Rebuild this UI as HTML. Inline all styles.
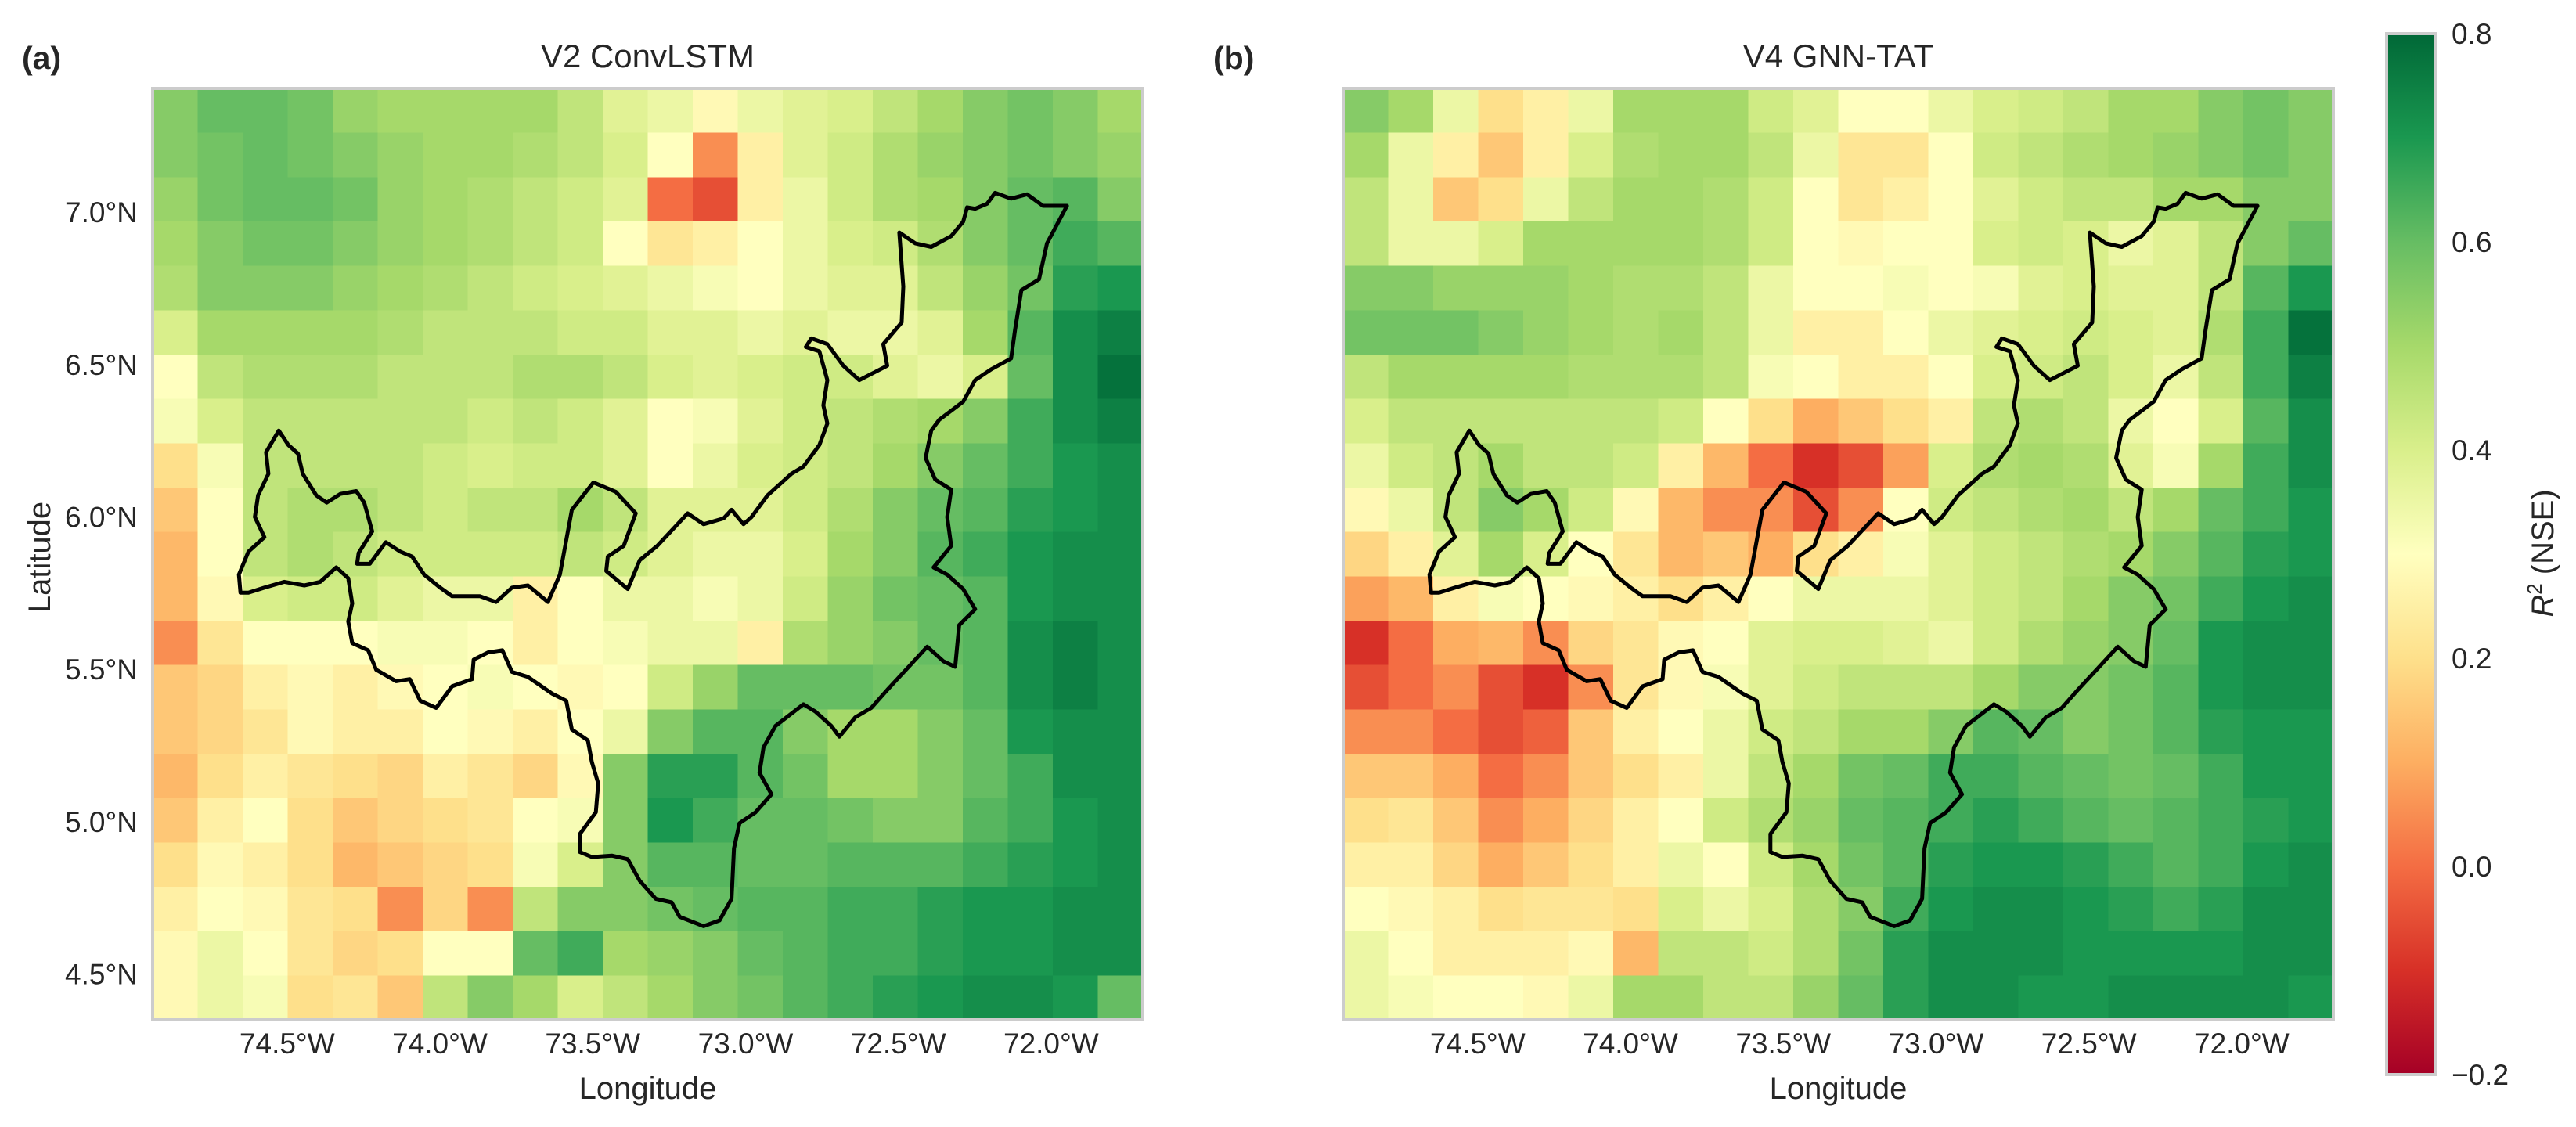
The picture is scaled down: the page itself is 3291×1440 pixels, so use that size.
<!DOCTYPE html>
<html><head><meta charset="utf-8"><style>
html,body{margin:0;padding:0;background:#fff}
svg{display:block;font-family:"Liberation Sans",Arial,sans-serif}
</style></head><body>
<svg id="fig" width="3291" height="1440" viewBox="0 0 3291 1440" xmlns="http://www.w3.org/2000/svg">
<defs>
<linearGradient id="cbg" x1="0" y1="1" x2="0" y2="0">
<stop offset="0" stop-color="#a50026"/><stop offset="0.1" stop-color="#d73027"/><stop offset="0.2" stop-color="#f46d43"/><stop offset="0.3" stop-color="#fdae61"/><stop offset="0.4" stop-color="#fee08b"/><stop offset="0.5" stop-color="#ffffbf"/><stop offset="0.6" stop-color="#d9ef8b"/><stop offset="0.7" stop-color="#a6d96a"/><stop offset="0.8" stop-color="#66bd63"/><stop offset="0.9" stop-color="#1a9850"/><stop offset="1" stop-color="#006837"/>
</linearGradient>
</defs>
<g id="layer"></g>
</svg>
<script>
const lonTicks=[-74.5,-74.0,-73.5,-73.0,-72.5,-72.0];
const lonLabels=["74.5°W","74.0°W","73.5°W","73.0°W","72.5°W","72.0°W"];
const latTicks=[4.5,5.0,5.5,6.0,6.5,7.0];
const latLabels=["4.5°N","5.0°N","5.5°N","6.0°N","6.5°N","7.0°N"];
const cbTicks=[-0.2,0.0,0.2,0.4,0.6,0.8];
const cbLabels=["\u22120.2","0.0","0.2","0.4","0.6","0.8"];
const lonMin=-74.94, lonMax=-71.70, latMin=4.35, latMax=7.406;
const vmin=-0.2, vmax=0.8;
const gridA=[
[.55,.6,.6,.58,.52,.5,.5,.5,.5,.45,.38,.35,.28,.35,.38,.4,.45,.5,.55,.58,.55,.5],
[.55,.58,.6,.58,.55,.52,.5,.5,.48,.45,.4,.3,.05,.25,.38,.42,.48,.52,.55,.58,.55,.52],
[.52,.58,.6,.6,.58,.52,.5,.48,.45,.42,.38,.0,-.05,.25,.35,.42,.48,.5,.55,.6,.62,.55],
[.5,.55,.58,.58,.55,.52,.5,.48,.45,.42,.3,.22,.25,.3,.35,.4,.42,.48,.55,.6,.65,.62],
[.48,.55,.55,.55,.52,.5,.48,.45,.42,.4,.38,.35,.32,.3,.35,.38,.38,.45,.52,.58,.68,.7],
[.4,.5,.5,.5,.5,.48,.45,.45,.45,.42,.42,.38,.38,.35,.38,.35,.35,.38,.5,.62,.72,.75],
[.3,.45,.48,.48,.48,.45,.45,.45,.48,.48,.45,.4,.38,.4,.42,.42,.38,.35,.4,.6,.72,.78],
[.32,.4,.45,.45,.45,.45,.45,.42,.45,.42,.38,.3,.32,.38,.42,.45,.48,.5,.55,.65,.72,.75],
[.2,.32,.45,.45,.45,.45,.42,.4,.42,.42,.38,.3,.35,.4,.42,.45,.5,.55,.6,.65,.7,.72],
[.15,.3,.45,.48,.48,.45,.42,.45,.45,.5,.45,.38,.38,.38,.42,.48,.55,.6,.62,.68,.7,.72],
[.12,.3,.45,.48,.45,.42,.42,.42,.42,.45,.42,.38,.35,.35,.4,.5,.55,.62,.65,.7,.72,.72],
[.12,.28,.4,.42,.42,.38,.35,.35,.25,.3,.35,.35,.32,.35,.42,.52,.58,.6,.62,.7,.72,.72],
[.05,.22,.3,.3,.3,.32,.32,.3,.25,.3,.32,.35,.35,.25,.48,.52,.55,.6,.62,.72,.75,.72],
[.15,.18,.25,.28,.25,.28,.3,.32,.3,.28,.3,.42,.52,.6,.6,.6,.58,.58,.62,.72,.75,.72],
[.15,.18,.22,.28,.25,.25,.3,.28,.25,.3,.35,.55,.62,.62,.55,.5,.5,.55,.6,.7,.72,.72],
[.12,.2,.25,.22,.2,.18,.25,.22,.18,.28,.55,.68,.68,.62,.58,.5,.5,.55,.6,.65,.72,.72],
[.15,.25,.3,.2,.15,.18,.2,.22,.3,.32,.55,.7,.65,.6,.6,.58,.55,.55,.62,.65,.7,.72],
[.2,.28,.25,.2,.12,.15,.18,.2,.32,.4,.55,.62,.62,.6,.6,.62,.62,.62,.65,.68,.7,.72],
[.25,.3,.28,.22,.2,.05,.18,.05,.45,.55,.55,.58,.6,.62,.62,.65,.65,.68,.7,.7,.72,.72],
[.28,.35,.3,.22,.18,.2,.3,.3,.6,.65,.5,.52,.55,.6,.62,.65,.65,.68,.7,.7,.72,.72],
[.28,.35,.32,.2,.22,.15,.45,.55,.5,.4,.45,.5,.55,.58,.62,.65,.68,.7,.72,.72,.7,.6]];
const gridB=[
[.55,.5,.35,.2,.25,.35,.5,.5,.5,.42,.38,.3,.3,.35,.4,.42,.45,.5,.5,.55,.58,.55],
[.5,.35,.25,.15,.25,.4,.48,.5,.5,.45,.35,.22,.22,.3,.42,.45,.48,.5,.52,.55,.58,.55],
[.45,.35,.15,.2,.35,.45,.5,.5,.48,.42,.3,.22,.25,.3,.38,.42,.45,.45,.5,.5,.55,.55],
[.45,.35,.35,.4,.5,.5,.5,.5,.48,.42,.3,.28,.3,.3,.4,.42,.4,.35,.38,.45,.55,.6],
[.55,.55,.52,.52,.52,.5,.48,.48,.45,.35,.3,.3,.32,.3,.32,.38,.4,.38,.38,.45,.62,.7],
[.58,.58,.58,.55,.52,.5,.48,.5,.45,.35,.25,.25,.3,.35,.38,.4,.42,.4,.38,.48,.65,.78],
[.45,.5,.5,.5,.5,.48,.48,.48,.45,.32,.3,.25,.25,.3,.4,.42,.45,.4,.35,.45,.65,.75],
[.4,.45,.45,.45,.45,.45,.45,.42,.3,.2,.1,.15,.2,.25,.45,.48,.45,.35,.3,.4,.62,.72],
[.35,.42,.45,.5,.45,.45,.42,.25,.12,0,-.1,-.05,.08,.4,.48,.5,.48,.38,.32,.5,.65,.72],
[.28,.35,.45,.55,.5,.42,.28,.12,.05,.05,-.05,.05,.3,.42,.45,.48,.5,.45,.5,.6,.65,.7],
[.18,.25,.38,.5,.4,.3,.22,.12,.15,.1,.2,.25,.32,.38,.42,.45,.48,.5,.55,.62,.68,.7],
[.08,.12,.25,.32,.3,.28,.25,.2,.25,.3,.35,.35,.35,.38,.42,.45,.5,.55,.58,.65,.7,.72],
[-.1,0,.1,.12,.05,.18,.22,.28,.3,.38,.4,.4,.38,.35,.42,.48,.52,.55,.6,.7,.72,.72],
[-.05,0,.05,-.05,-.1,.05,.22,.28,.32,.38,.42,.45,.45,.45,.5,.55,.55,.58,.62,.7,.72,.72],
[.05,.05,0,-.05,-.02,.15,.25,.3,.35,.42,.45,.5,.5,.55,.62,.6,.55,.58,.62,.68,.7,.7],
[.15,.15,.1,0,.05,.15,.2,.25,.35,.45,.5,.58,.6,.65,.65,.62,.6,.58,.6,.65,.7,.7],
[.2,.22,.15,.05,.1,.18,.25,.3,.42,.48,.52,.6,.62,.65,.68,.65,.62,.6,.62,.65,.68,.7],
[.25,.25,.18,.1,.15,.2,.25,.35,.3,.42,.5,.58,.62,.68,.7,.7,.68,.65,.62,.65,.7,.72],
[.3,.28,.25,.2,.22,.22,.2,.4,.35,.4,.48,.55,.65,.7,.72,.72,.7,.68,.65,.68,.72,.72],
[.35,.3,.25,.25,.25,.28,.12,.45,.45,.42,.48,.58,.68,.72,.72,.72,.7,.7,.7,.7,.72,.72],
[.35,.32,.3,.3,.28,.35,.5,.5,.45,.45,.52,.6,.68,.72,.72,.7,.7,.72,.72,.72,.72,.7]];
const outline=[[300,825],[298,800],[310,768],[330,748],[318,720],[322,690],[335,660],[332,630],[348,600],[360,620],[372,632],[378,660],[395,690],[408,700],[425,688],[445,684],[455,700],[465,740],[448,770],[446,785],[462,785],[482,755],[500,768],[515,775],[530,800],[550,818],[565,830],[600,830],[620,838],[640,818],[660,815],[685,838],[700,800],[715,710],[742,672],[770,685],[795,715],[780,760],[760,775],[758,795],[785,820],[800,780],[822,760],[860,715],[880,730],[905,722],[915,710],[930,730],[940,720],[960,690],[990,660],[1005,650],[1025,620],[1035,590],[1030,565],[1035,530],[1025,490],[1008,484],[1015,472],[1035,480],[1055,510],[1075,530],[1110,510],[1105,480],[1128,450],[1130,400],[1125,325],[1145,340],[1165,345],[1190,330],[1205,310],[1210,290],[1220,292],[1235,285],[1245,270],[1265,278],[1285,272],[1305,288],[1335,288],[1310,340],[1300,390],[1278,405],[1270,460],[1265,500],[1240,515],[1220,530],[1205,560],[1175,585],[1165,600],[1158,638],[1170,668],[1190,682],[1185,720],[1190,760],[1168,790],[1185,800],[1205,820],[1220,848],[1200,870],[1195,928],[1180,920],[1160,900],[1135,930],[1110,960],[1090,985],[1070,998],[1050,1025],[1040,1010],[1020,990],[1005,980],[970,1010],[955,1040],[950,1075],[965,1105],[945,1130],[925,1145],[918,1180],[915,1250],[900,1280],[880,1288],[850,1275],[840,1255],[820,1250],[800,1225],[785,1195],[765,1190],[740,1192],[725,1185],[725,1160],[745,1130],[748,1090],[740,1060],[735,1030],[715,1015],[708,975],[690,965],[660,942],[640,935],[628,905],[610,908],[592,918],[590,945],[565,955],[545,985],[525,975],[512,945],[495,948],[470,932],[460,905],[440,895],[435,865],[440,840],[435,805],[420,790],[400,810],[380,815],[355,810],[330,818],[310,825]];

const NS="http://www.w3.org/2000/svg";
const layer=document.getElementById('layer');
const stops=["#a50026","#d73027","#f46d43","#fdae61","#fee08b","#ffffbf","#d9ef8b","#a6d96a","#66bd63","#1a9850","#006837"].map(h=>[parseInt(h.substr(1,2),16),parseInt(h.substr(3,2),16),parseInt(h.substr(5,2),16)]);
function cmap(v){let t=(v-vmin)/(vmax-vmin);t=Math.max(0,Math.min(1,t))*10;const i=Math.min(9,Math.floor(t)),f=t-i;const a=stops[i],b=stops[i+1];return `rgb(${Math.round(a[0]+(b[0]-a[0])*f)},${Math.round(a[1]+(b[1]-a[1])*f)},${Math.round(a[2]+(b[2]-a[2])*f)})`;}
function mk(tag,attrs,parent){const e=document.createElementNS(NS,tag);for(const k in attrs)e.setAttribute(k,attrs[k]);(parent||layer).appendChild(e);return e;}
function txt(s,attrs,parent){const e=mk('text',attrs,parent);e.textContent=s;return e;}

const mapTop=113,mapBot=1303;
const panels=[{x0:195,x1:1460,grid:gridA,title:"V2 ConvLSTM",tag:"(a)",tagX:28,ylab:true,id:"a"},
{x0:1716,x1:2981,grid:gridB,title:"V4 GNN-TAT",tag:"(b)",tagX:1550,ylab:false,id:"b"}];
panels.forEach(p=>{
  const g=mk('g',{});
  
  
  const xs=lon=>p.x0+(lon-lonMin)/(lonMax-lonMin)*(p.x1-p.x0);
  const ys=lat=>mapTop+(latMax-lat)/(latMax-latMin)*(mapBot-mapTop);
  const rows=p.grid.length, cols=p.grid[0].length;
  const cw=(p.x1-p.x0)/cols, ch=(mapBot-mapTop)/rows;
  const hm=mk('g',{'shape-rendering':'crispEdges'},g);
  
  
  for(let r=0;r<rows;r++)for(let c=0;c<cols;c++){
    const rc=mk('rect',{x:(p.x0+c*cw).toFixed(2),y:(mapTop+r*ch).toFixed(2),width:(cw+0.6).toFixed(2),height:(ch+0.6).toFixed(2),fill:cmap(p.grid[r][c])},hm);
    
    
  }
  const pts=outline.map(q=>{const fx=(q[0]-190)/1240,fy=(q[1]-125)/1293;return (p.x0+fx*(p.x1-p.x0)).toFixed(1)+','+(mapTop+fy*(mapBot-mapTop)).toFixed(1);}).join(' ');
  const ol=mk('polygon',{points:pts,fill:'none',stroke:'#000','stroke-width':5,'stroke-linejoin':'round'},g);
  
  
  const fr=mk('rect',{x:p.x0,y:mapTop,width:p.x1-p.x0,height:mapBot-mapTop,fill:'none',stroke:'#cccccc','stroke-width':4},g);
  
  
  lonTicks.forEach((v,i)=>{const t=txt(lonLabels[i],{x:xs(v),y:1346,'font-size':37,fill:'#262626','text-anchor':'middle'},g);
    
    });
  const xl=txt("Longitude",{x:(p.x0+p.x1)/2,y:1404,'font-size':40,fill:'#262626','text-anchor':'middle'},g);
  
  
  const tt=txt(p.title,{x:(p.x0+p.x1)/2,y:86,'font-size':42,fill:'#262626','text-anchor':'middle'},g);
  
  
  const tg=txt(p.tag,{x:p.tagX,y:88,'font-size':41,'font-weight':'bold',fill:'#262626'},g);
  
  
  if(p.ylab){
    latTicks.forEach((v,i)=>{const t=txt(latLabels[i],{x:176,y:ys(v)+13,'font-size':37,fill:'#262626','text-anchor':'end'},g);
      
      });
    const yl=txt("Latitude",{x:0,y:0,'font-size':40,fill:'#262626','text-anchor':'middle',transform:'translate(64,712) rotate(-90)'},g);
    
    
  }
});
const cbTop=43,cbBot=1373,cbX=3049,cbW=63;
const cb=mk('g',{});


mk('rect',{x:cbX,y:cbTop,width:cbW,height:cbBot-cbTop,fill:'url(#cbg)',stroke:'#cccccc','stroke-width':4},cb);
const cys=v=>cbBot-(v-vmin)/(vmax-vmin)*(cbBot-cbTop);
cbTicks.forEach((v,i)=>{const t=txt(cbLabels[i],{x:3132,y:cys(v)+13,'font-size':37,fill:'#262626'},cb);
  
  });
const cl=mk('text',{x:0,y:0,'font-size':40,fill:'#262626','text-anchor':'middle',transform:'translate(3262,707) rotate(-90)'},cb);
cl.innerHTML='<tspan font-style="italic">R</tspan><tspan dy="-15" font-size="26">2</tspan><tspan dy="15"> (NSE)</tspan>';


</script>
</body></html>
